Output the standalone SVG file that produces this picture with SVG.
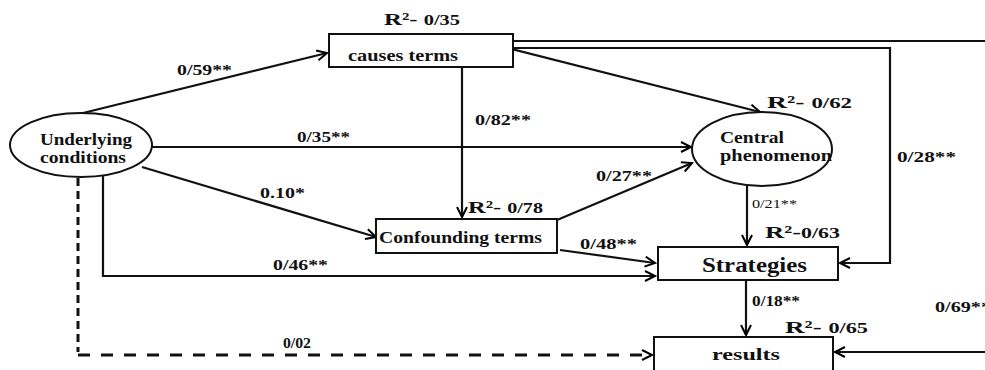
<svg xmlns="http://www.w3.org/2000/svg" width="985" height="370" viewBox="0 0 985 370">
<defs>
<marker id="ah" markerUnits="userSpaceOnUse" markerWidth="14" markerHeight="14" refX="11" refY="6" orient="auto">
<path d="M1,1 L11,6 L1,11" fill="none" stroke="#000" stroke-width="2"/>
</marker>
</defs>
<style>
.t{font-family:"Liberation Serif","Times New Roman",serif;font-weight:bold;fill:#111}
.l{font-size:15px}
.k{font-size:14px}
.s{font-size:12px;font-weight:normal}
.r{font-size:17px}
.n{font-size:16px}
.u{font-size:17px}
.g{font-size:21px}
.box{fill:#fff;stroke:#111;stroke-width:2}
.c{fill:none;stroke:#111;stroke-width:2.2}
.d{fill:none;stroke:#111;stroke-width:3}
</style>
<rect width="985" height="370" fill="#fff"/>
<g id="connectors">
<line class="c" x1="83" y1="113" x2="327" y2="53" marker-end="url(#ah)"/>
<line class="c" x1="152" y1="147" x2="691" y2="147" marker-end="url(#ah)"/>
<line class="c" x1="142" y1="167" x2="376" y2="237" marker-end="url(#ah)"/>
<polyline class="c" points="103,176 103,276 655,276" marker-end="url(#ah)"/>
<polyline class="d" points="78,178 78,352" stroke-dasharray="8 5"/>
<polyline class="d" points="78,355 652,355" stroke-dasharray="12 11" marker-end="url(#ah)"/>
<line class="c" x1="462" y1="67" x2="462" y2="217" marker-end="url(#ah)"/>
<line class="c" x1="513" y1="41" x2="985" y2="41"/>
<polyline class="c" points="513,48 890,48 890,263 840,263" marker-end="url(#ah)"/>
<line class="c" x1="508" y1="48" x2="760" y2="112" marker-end="url(#ah)"/>
<line class="c" x1="557" y1="220" x2="692" y2="163" marker-end="url(#ah)"/>
<line class="c" x1="560" y1="250" x2="655" y2="263" marker-end="url(#ah)"/>
<line class="c" x1="747" y1="186" x2="747" y2="245" marker-end="url(#ah)"/>
<line class="c" x1="746" y1="280" x2="746" y2="335" marker-end="url(#ah)"/>
<line class="c" x1="985" y1="352" x2="835" y2="352" marker-end="url(#ah)"/>
</g>
<g id="labels">
<text class="t l" x="177" y="75" textLength="55" lengthAdjust="spacingAndGlyphs">0/59**</text>
<text class="t l" x="297" y="142" textLength="53" lengthAdjust="spacingAndGlyphs">0/35**</text>
<text class="t l" x="475" y="125" textLength="56" lengthAdjust="spacingAndGlyphs">0/82**</text>
<text class="t l" x="260" y="198" textLength="45" lengthAdjust="spacingAndGlyphs">0.10*</text>
<text class="t l" x="596" y="181" textLength="56" lengthAdjust="spacingAndGlyphs">0/27**</text>
<text class="t l" x="897" y="162" textLength="59" lengthAdjust="spacingAndGlyphs">0/28**</text>
<text class="t l" x="580" y="249" textLength="57" lengthAdjust="spacingAndGlyphs">0/48**</text>
<text class="t l" x="273" y="270" textLength="55" lengthAdjust="spacingAndGlyphs">0/46**</text>
<text class="t s" x="752" y="208" textLength="45" lengthAdjust="spacingAndGlyphs">0/21**</text>
<text class="t k" x="752" y="306" textLength="48" lengthAdjust="spacingAndGlyphs">0/18**</text>
<text class="t k" x="935" y="312" textLength="56" lengthAdjust="spacingAndGlyphs">0/69**</text>
<text class="t l" x="283" y="348" textLength="28" lengthAdjust="spacingAndGlyphs">0/02</text>
<text class="t r" x="384" y="25" textLength="76" lengthAdjust="spacingAndGlyphs">R²- <tspan class="k">0/35</tspan></text>
<text class="t r" x="767" y="108" textLength="85" lengthAdjust="spacingAndGlyphs">R²- <tspan class="k">0/62</tspan></text>
<text class="t r" x="468" y="213" textLength="75" lengthAdjust="spacingAndGlyphs">R²- <tspan class="k">0/78</tspan></text>
<text class="t r" x="765" y="238" textLength="75" lengthAdjust="spacingAndGlyphs">R²-<tspan class="k">0/63</tspan></text>
<text class="t r" x="785" y="333" textLength="83" lengthAdjust="spacingAndGlyphs">R²- <tspan class="k">0/65</tspan></text>
</g>
<g id="causes-terms">
<rect class="box" x="329" y="34" width="184" height="33"/>
<text class="t n" x="348" y="61" textLength="110" lengthAdjust="spacingAndGlyphs">causes terms</text>
</g>
<g id="underlying-conditions">
<ellipse class="box" cx="81" cy="145" rx="71" ry="32"/>
<text class="t u" x="40" y="145" textLength="92" lengthAdjust="spacingAndGlyphs">Underlying</text>
<text class="t u" x="40" y="163" textLength="86" lengthAdjust="spacingAndGlyphs">conditions</text>
</g>
<g id="central-phenomenon">
<ellipse class="box" cx="762" cy="149" rx="70" ry="37"/>
<text class="t n" x="720" y="143" textLength="64" lengthAdjust="spacingAndGlyphs">Central</text>
<text class="t n" x="720" y="161" textLength="112" lengthAdjust="spacingAndGlyphs">phenomenon</text>
</g>
<g id="confounding-terms">
<rect class="box" x="376" y="219" width="181" height="34"/>
<text class="t u" x="379" y="243" textLength="163" lengthAdjust="spacingAndGlyphs">Confounding terms</text>
</g>
<g id="strategies">
<rect class="box" x="658" y="247" width="180" height="33"/>
<text class="t g" x="702" y="272" textLength="105" lengthAdjust="spacingAndGlyphs">Strategies</text>
</g>
<g id="results">
<rect class="box" x="654" y="337" width="179" height="40"/>
<text class="t u" x="712" y="360" textLength="68" lengthAdjust="spacingAndGlyphs">results</text>
</g>
</svg>
